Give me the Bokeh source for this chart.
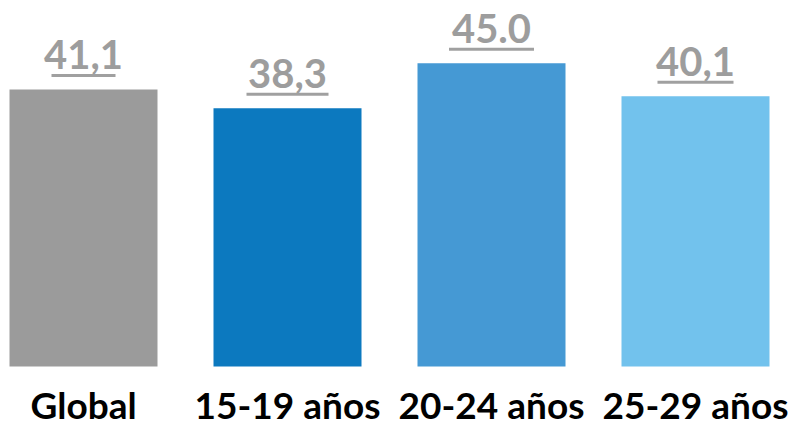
from bokeh.plotting import figure
from bokeh.models import Range1d, ColumnDataSource
from bokeh.core.properties import value
from bokeh.embed import file_html
from bokeh.resources import INLINE

categories = ["Global", "15-19 años", "20-24 años", "25-29 años"]
values = [41.1, 38.3, 45.0, 40.1]
value_labels = ["41,1", "38,3", "45.0", "40,1"]
colors = ["#9b9b9b", "#0c79bf", "#4599d4", "#72c2ed"]
underline_px = [64, 82, 85, 76]

W, H = 811, 426
PX_X = 204.0   # px per category
PX_Y = 6.74    # px per unit
x0 = -83 / PX_X
y0 = -60 / PX_Y

p = figure(width=W, height=H, output_backend="svg", toolbar_location=None,
           x_range=Range1d(x0, x0 + W / PX_X), y_range=Range1d(y0, y0 + H / PX_Y),
           min_border=0, outline_line_color=None)
p.axis.visible = False
p.grid.visible = False
p.background_fill_color = "white"
p.border_fill_color = "white"

xs = list(range(len(categories)))
src = ColumnDataSource(dict(x=xs, top=values, cat=categories, lab=value_labels,
                            color=colors, ul=underline_px,
                            uly=[v + 14 / PX_Y for v in values]))

p.vbar(x="x", top="top", bottom=0, width=148 / PX_X, fill_color="color",
       line_color=None, source=src)

p.text(x="x", y="top", text="lab", source=src, y_offset=-35,
       text_align="center", text_baseline="alphabetic",
       text_font=value("Lato"), text_font_style="bold",
       text_font_size="40px", text_color="#9d9d9d")

p.rect(x="x", y="uly", width="ul", height=3, width_units="screen",
       height_units="screen", fill_color="#a0a0a0", line_color=None, source=src)

p.text(x="x", y=0, text="cat", source=src, y_offset=38,
       text_align="center", text_baseline="alphabetic",
       text_font=value("Lato"), text_font_style="bold",
       text_font_size="37px", text_color="#000000")

open("out.html", "w").write(file_html(p, INLINE))
